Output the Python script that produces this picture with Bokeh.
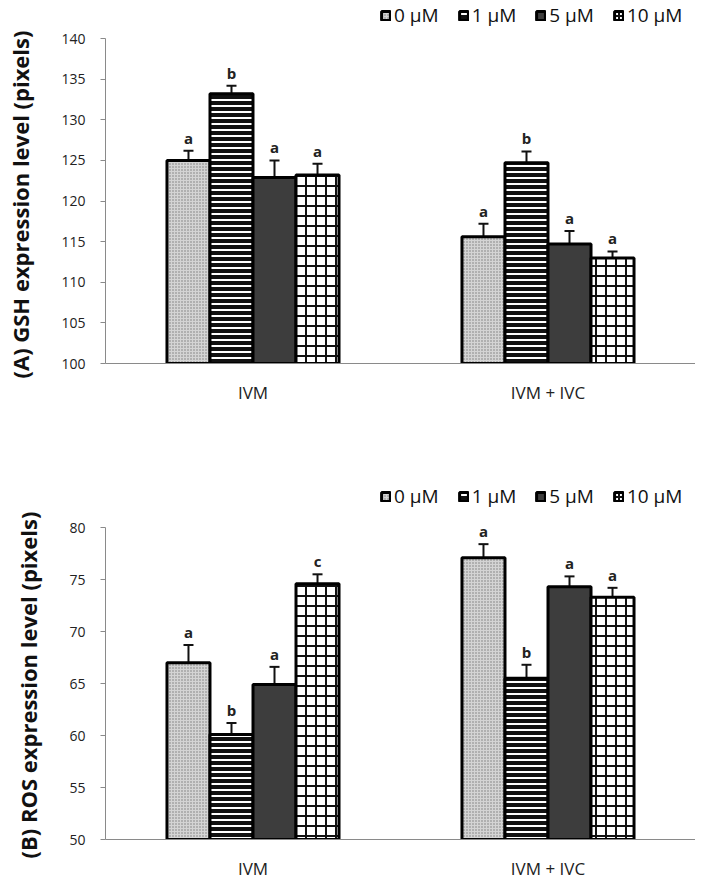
from bokeh.plotting import figure
from bokeh.models import (ColumnDataSource, FactorRange, Range1d, Legend, LegendItem,
                          Whisker, TeeHead, FixedTicker, Title)
from bokeh.transform import dodge
from bokeh.layouts import column
from bokeh.embed import file_html
from bokeh.resources import INLINE
from bokeh.core.properties import value

groups = ["IVM", "IVM + IVC"]
doses = ["0 μM", "1 μM", "5 μM", "10 μM"]

gsh_0 = [125.0, 115.6]
gsh_1 = [133.2, 124.7]
gsh_5 = [122.9, 114.7]
gsh_10 = [123.2, 113.0]
gsh_err_0 = [1.2, 1.6]
gsh_err_1 = [1.0, 1.4]
gsh_err_5 = [2.1, 1.6]
gsh_err_10 = [1.4, 0.8]
gsh_let_0 = ["a", "a"]
gsh_let_1 = ["b", "b"]
gsh_let_5 = ["a", "a"]
gsh_let_10 = ["a", "a"]

ros_0 = [67.0, 77.1]
ros_1 = [60.1, 65.5]
ros_5 = [64.9, 74.3]
ros_10 = [74.6, 73.3]
ros_err_0 = [1.7, 1.3]
ros_err_1 = [1.1, 1.3]
ros_err_5 = [1.7, 1.0]
ros_err_10 = [0.9, 0.9]
ros_let_0 = ["a", "a"]
ros_let_1 = ["b", "b"]
ros_let_5 = ["a", "a"]
ros_let_10 = ["c", "a"]

gsh_ticks = [100, 105, 110, 115, 120, 125, 130, 135, 140]
ros_ticks = [50, 55, 60, 65, 70, 75, 80]

FONT = "Open Sans"
BW = 0.1458
offsets = [-1.5 * BW, -0.5 * BW, 0.5 * BW, 1.5 * BW]
styles = [
    dict(fill_color="#d4d4d4", hatch_pattern="dot", hatch_color="#7a7a7a", hatch_scale=3, hatch_weight=1),
    dict(fill_color="#111111", hatch_pattern="horizontal_line", hatch_color="white", hatch_scale=6, hatch_weight=2),
    dict(fill_color="#3d3d3d"),
    dict(fill_color="white", hatch_pattern="cross", hatch_color="#111111", hatch_scale=10, hatch_weight=2),
]

TITLE_PROPS = Title.properties()


def make_panel(vals, errs, lets, ymin, ymax, ytop, ticks, ylabel, height, top_border, bottom_border,
               leg_vy, label_offset):
    p = figure(x_range=FactorRange(*groups, range_padding=0), y_range=Range1d(ymin, ytop),
               width=695, height=height, output_backend="svg", toolbar_location=None,
               min_border_left=105, min_border_right=0, min_border_top=top_border,
               min_border_bottom=bottom_border)
    p.outline_line_color = None
    p.xgrid.visible = False
    p.ygrid.visible = False
    items = []
    base = ymin - (ymax - ymin) * 0.02
    for i in range(4):
        src = ColumnDataSource(dict(g=groups, v=vals[i], top=[a + b for a, b in zip(vals[i], errs[i])],
                                    lab=lets[i]))
        x = dodge("g", offsets[i], range=p.x_range)
        r = p.vbar(x=x, top="v", bottom=base, width=BW, source=src,
                   line_color="black", line_width=3, **styles[i])
        items.append(LegendItem(label=doses[i], renderers=[r]))
        w = Whisker(base=x, upper="top", lower="v", source=src, dimension="height",
                    line_color="#111111", line_width=2,
                    upper_head=TeeHead(size=10, line_color="#111111", line_width=2), lower_head=None)
        p.add_layout(w)
        p.text(x=x, y="top", text="lab", source=src, text_align="center", text_baseline="bottom",
               y_offset=-3, text_font=value(FONT), text_font_size="15px", text_font_style="bold",
               text_color="#222222")
    leg = Legend(items=items, orientation="horizontal", location=(275, leg_vy),
                 label_text_font=FONT, label_text_font_size="19px", label_text_color="#111111",
                 glyph_width=11, glyph_height=11, spacing=19, label_standoff=3,
                 padding=0, margin=0, border_line_color=None, background_fill_alpha=0)
    p.add_layout(leg)
    p.yaxis.ticker = FixedTicker(ticks=ticks)
    p.yaxis.bounds = (ymin, ymax)
    p.yaxis.major_label_text_font = FONT
    p.yaxis.major_label_text_font_size = "14px"
    p.yaxis.major_label_text_color = "#222222"
    p.yaxis.major_label_standoff = 15
    p.yaxis.axis_line_color = "#8a8a8a"
    p.yaxis.major_tick_line_color = "#8a8a8a"
    p.yaxis.major_tick_out = 5
    p.yaxis.major_tick_in = 0
    p.yaxis.minor_tick_line_color = None
    p.xaxis.axis_line_color = "#8a8a8a"
    p.xaxis.major_tick_line_color = None
    p.xaxis.minor_tick_line_color = None
    p.xaxis.major_label_text_font = FONT
    p.xaxis.major_label_text_font_size = "17px"
    p.xaxis.major_label_text_color = "#222222"
    p.xaxis.major_label_standoff = 11
    # empty spacer between the tick labels and the rotated axis title
    spacer = Title(text=" ", align="left", text_font=FONT, text_font_size="16px")
    t = Title(text=ylabel, align="left", offset=label_offset, text_font=FONT,
              text_font_size="22px", text_font_style="bold", text_color="#111111")
    if "standoff" in TITLE_PROPS:
        spacer.standoff = 0
        t.standoff = 0
    p.add_layout(spacer, "left")
    p.add_layout(t, "left")
    return p


pa = make_panel([gsh_0, gsh_1, gsh_5, gsh_10], [gsh_err_0, gsh_err_1, gsh_err_5, gsh_err_10],
                [gsh_let_0, gsh_let_1, gsh_let_5, gsh_let_10], 100, 140, 144.68, gsh_ticks,
                "(A) GSH expression level (pixels)", 420, 0, 57, 335, -15)
pb = make_panel([ros_0, ros_1, ros_5, ros_10], [ros_err_0, ros_err_1, ros_err_5, ros_err_10],
                [ros_let_0, ros_let_1, ros_let_5, ros_let_10], 50, 80, 84.52, ros_ticks,
                "(B) ROS expression level (pixels)", 466, 60, 47, 330, -19)

layout = column(pa, pb, spacing=0)
open("out.html", "w").write(file_html(layout, INLINE))
